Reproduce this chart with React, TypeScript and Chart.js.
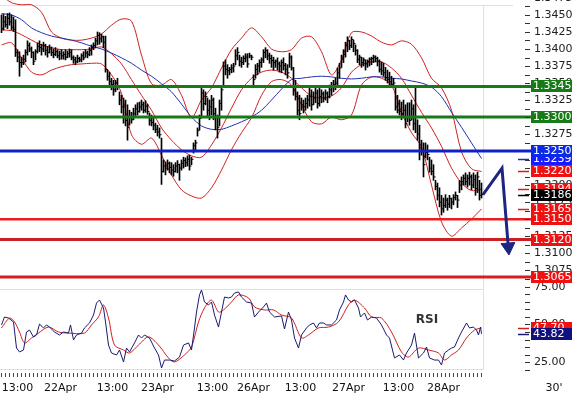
import React, { useEffect, useRef } from "react";
import { Chart, registerables } from "chart.js";

Chart.register(...registerables);

// ---------- price bars (30' bars), values in pips above 1.3000 ----------
const PIP_BASE = 1.3;
const highPips = [
  450, 451, 448, 452, 453, 450, 447, 443, 399, 396,
  388, 391, 399, 412, 409, 403, 396, 399, 409, 412,
  407, 410, 407, 404, 406, 403, 400, 402, 399, 397,
  399, 396, 399, 397, 400, 399, 390, 388, 391, 388,
  393, 396, 399, 397, 402, 406, 409, 416, 425, 424,
  422, 419, 419, 369, 366, 357, 354, 354, 357, 337,
  332, 328, 325, 318, 310, 307, 313, 318, 321, 322,
  325, 322, 324, 319, 306, 303, 299, 291, 288, 284,
  269, 237, 234, 237, 234, 233, 230, 233, 236, 231,
  237, 241, 240, 243, 244, 241, 262, 266, 284, 303,
  343, 340, 337, 328, 325, 332, 328, 313, 303, 325,
  343, 381, 384, 377, 373, 377, 379, 399, 402, 391,
  388, 390, 393, 393, 394, 391, 362, 377, 379, 384,
  387, 399, 402, 399, 394, 391, 388, 384, 387, 381,
  384, 387, 379, 377, 394, 390, 373, 354, 337, 332,
  328, 325, 328, 332, 343, 340, 337, 343, 340, 343,
  340, 337, 340, 337, 347, 351, 354, 357, 372, 379,
  391, 399, 410, 418, 413, 418, 413, 406, 399, 391,
  388, 387, 384, 384, 387, 388, 391, 390, 388, 384,
  381, 379, 373, 369, 366, 360, 357, 344, 332, 325,
  322, 325, 318, 321, 321, 325, 318, 344, 296, 288,
  266, 262, 262, 259, 241, 237, 230, 207, 203, 196,
  185, 181, 186, 181, 185, 181, 186, 190, 185, 207,
  212, 215, 218, 215, 219, 215, 218, 215, 219, 207,
  203,
];
const lowPips = [
  424, 428, 432, 430, 435, 428, 426, 389, 381, 360,
  373, 377, 381, 391, 396, 387, 377, 384, 394, 396,
  391, 396, 391, 388, 394, 390, 387, 390, 387, 384,
  385, 385, 384, 387, 388, 384, 379, 377, 380, 381,
  381, 384, 388, 387, 390, 391, 399, 402, 406, 407,
  410, 402, 366, 354, 347, 340, 332, 337, 340, 318,
  306, 291, 287, 266, 288, 291, 296, 300, 303, 307,
  310, 306, 307, 304, 288, 287, 281, 277, 272, 269,
  201, 219, 215, 222, 218, 215, 213, 219, 218, 207,
  222, 225, 227, 228, 222, 230, 247, 252, 272, 281,
  299, 310, 318, 299, 296, 303, 296, 281, 269, 287,
  310, 347, 362, 357, 362, 365, 366, 377, 384, 375,
  373, 377, 381, 373, 387, 384, 347, 357, 362, 366,
  373, 380, 387, 384, 379, 373, 369, 373, 369, 366,
  365, 369, 362, 357, 373, 369, 332, 325, 303, 296,
  310, 306, 310, 313, 316, 310, 318, 321, 313, 316,
  321, 322, 325, 321, 328, 332, 337, 340, 344, 357,
  373, 380, 388, 396, 399, 402, 396, 391, 380, 377,
  373, 375, 369, 373, 375, 377, 380, 381, 375, 366,
  362, 360, 354, 350, 347, 344, 347, 310, 306, 303,
  296, 299, 284, 293, 288, 296, 281, 277, 266, 237,
  244, 212, 240, 237, 219, 215, 207, 193, 178, 168,
  156, 160, 167, 163, 167, 165, 171, 178, 167, 189,
  193, 200, 200, 197, 200, 193, 196, 185, 189, 178,
  181,
];
const closePips = [
  430, 440, 436, 445, 440, 432, 429, 395, 388, 380,
  380, 385, 395, 405, 400, 395, 382, 396, 404, 402,
  400, 405, 398, 395, 400, 395, 392, 396, 390, 393,
  390, 392, 388, 393, 395, 387, 384, 381, 386, 384,
  390, 387, 394, 392, 398, 402, 405, 412, 420, 415,
  418, 410, 370, 360, 352, 348, 340, 350, 345, 325,
  315, 300, 295, 285, 300, 296, 305, 312, 308, 315,
  318, 310, 316, 308, 295, 292, 288, 282, 278, 274,
  220, 228, 225, 232, 226, 222, 220, 228, 230, 225,
  232, 236, 233, 238, 228, 238, 258, 262, 280, 298,
  335, 320, 330, 310, 315, 325, 305, 300, 285, 320,
  340, 375, 370, 368, 370, 372, 375, 390, 395, 382,
  380, 386, 388, 378, 390, 388, 355, 370, 375, 380,
  384, 395, 398, 390, 386, 383, 380, 382, 378, 375,
  380, 376, 370, 365, 388, 372, 340, 330, 310, 305,
  318, 315, 320, 325, 330, 318, 328, 335, 320, 330,
  334, 328, 335, 330, 340, 344, 348, 350, 365, 372,
  385, 392, 405, 412, 405, 414, 408, 398, 385, 388,
  380, 384, 378, 382, 385, 386, 388, 386, 382, 370,
  368, 365, 358, 355, 352, 348, 350, 315, 310, 308,
  305, 310, 290, 300, 295, 312, 290, 300, 275, 255,
  250, 230, 248, 245, 225, 220, 212, 198, 185, 175,
  165, 170, 178, 172, 180, 175, 182, 185, 178, 200,
  205, 210, 205, 210, 212, 200, 208, 195, 212, 185,
  186,
];

// ---------- indicator lines (sampled every 5 bars) ----------
const lineIdx = [
  0, 5, 10, 15, 20, 25, 30, 35, 40, 45,
  50, 55, 60, 65, 70, 75, 80, 85, 90, 95,
  100, 105, 110, 115, 120, 125, 130, 135, 140, 145,
  150, 155, 160, 165, 170, 175, 180, 185, 190, 195,
  200, 205, 210, 215, 220, 225, 230, 235, 240,
];
const upperBand = [
  1.3479, 1.3468, 1.3465, 1.3465, 1.3454, 1.3425, 1.3416, 1.3413, 1.3413, 1.3416,
  1.3422, 1.3435, 1.3444, 1.3441, 1.3391, 1.3349, 1.3347, 1.3355, 1.3332, 1.3299,
  1.3325, 1.3343, 1.3372, 1.3399, 1.3416, 1.3431, 1.3418, 1.34, 1.3396, 1.3399,
  1.3416, 1.3418, 1.3396, 1.3362, 1.3384, 1.3424, 1.3425, 1.3419, 1.341, 1.3406,
  1.3412, 1.3407, 1.3387, 1.3357, 1.3343, 1.331, 1.3249, 1.3224, 1.322,
];
const middleBand = [
  1.3428, 1.3427, 1.3421, 1.3413, 1.3406, 1.3402, 1.3399, 1.3399, 1.3399, 1.34,
  1.3403, 1.3393, 1.3378, 1.3355, 1.3332, 1.331, 1.3284, 1.3266, 1.3252, 1.3243,
  1.3241, 1.3259, 1.3284, 1.3313, 1.334, 1.3357, 1.3366, 1.3369, 1.3366, 1.3357,
  1.3343, 1.3331, 1.3328, 1.3331, 1.3343, 1.3366, 1.3377, 1.3381, 1.3381, 1.3372,
  1.3357, 1.3332, 1.3307, 1.3284, 1.3257, 1.3225, 1.3203, 1.3192, 1.3194,
];
const lowerBand = [
  1.3406, 1.3409, 1.3387, 1.3366, 1.3362, 1.3369, 1.3374, 1.3377, 1.3378, 1.3379,
  1.3378, 1.3362, 1.3335, 1.3274, 1.326, 1.3269, 1.3244, 1.3215, 1.3193, 1.3184,
  1.3181, 1.3196, 1.3222, 1.3252, 1.3277, 1.3299, 1.3332, 1.3352, 1.3355, 1.3347,
  1.3318, 1.3293, 1.329, 1.33, 1.3296, 1.3303, 1.3347, 1.3359, 1.3357, 1.3347,
  1.3307, 1.3277, 1.3256, 1.32, 1.3146, 1.3125, 1.3137, 1.315, 1.3165,
];
const maLine = [
  1.3452, 1.345, 1.3443, 1.3431, 1.3424, 1.3419, 1.3416, 1.3413, 1.3409, 1.3404,
  1.34, 1.3394, 1.3387, 1.3379, 1.3369, 1.336, 1.3349, 1.3337, 1.3319, 1.33,
  1.3287, 1.3282, 1.3282, 1.3287, 1.3293, 1.33, 1.331, 1.3325, 1.3341, 1.3355,
  1.3357, 1.3359, 1.336, 1.3359, 1.3357, 1.3356, 1.3357, 1.3359, 1.3359, 1.3357,
  1.3356, 1.3353, 1.335, 1.3344, 1.333, 1.3307, 1.3285, 1.3262, 1.3239,
];

// ---------- support / resistance levels ----------
const levelValues = [1.3345, 1.33, 1.325, 1.315, 1.312, 1.3065];
const levelColors = ["#167a16", "#167a16", "#1020c8", "#ee1c1c", "#cc2020", "#d02020"];
const levelBoxColors = ["#167a16", "#167a16", "#0a2ae6", "#ee1111", "#ee1111", "#ee1111"];
const levelWidths = [3, 3, 3, 2.5, 3, 3];

// ---------- projection arrow ----------
const projectionIdx = [240.75, 250.25, 253.4];
const projectionPrices = [1.3186, 1.3225, 1.3109];

// ---------- RSI ----------
const rsiIdx = [
  0, 1.5, 3.5, 6, 7.5, 9, 11, 12.5, 14, 16,
  17.5, 19, 21, 22.5, 24, 26.5, 29, 31, 33.5, 34.5,
  36, 37.5, 40, 41.5, 44, 46, 47.5, 49, 51, 52,
  53.5, 55, 57.5, 59, 61, 62.5, 64, 66.5, 68.5, 70,
  71.5, 74, 76.5, 78.5, 80, 81.5, 84, 86.5, 89, 91,
  93.5, 95, 96.5, 97.5, 99, 100, 101.5, 103.5, 105, 106.5,
  108.5, 110, 111.5, 113.5, 115, 116.5, 118.5, 120, 122.5, 125,
  126.5, 128.5, 131, 132.5, 134, 136.5, 140, 141.5, 143.5, 145,
  146.5, 148.5, 150, 152.5, 154, 156, 157.5, 159, 161, 162.5,
  165, 167.5, 169, 171, 172, 173.5, 175, 176.5, 178.5, 179.5,
  181.5, 183, 185, 187.5, 190, 192.5, 194, 196.5, 199, 201,
  202.5, 205, 206.5, 208.5, 211, 212.5, 214, 216.5, 218.5, 220,
  221.5, 223.5, 225, 226.5, 228.5, 230, 232.5, 234, 236, 237.5,
  238.5, 239.5, 240,
];
const rsiValues = [
  49.7, 55, 54.3, 51.7, 34.3, 31.7, 33, 45, 46.3, 41.7,
  43, 50.3, 47.7, 49.7, 48.3, 45, 43, 45, 44.3, 49.7,
  39.7, 43, 44.3, 47.7, 51, 56.3, 64.3, 66.3, 61, 51.7,
  36.3, 31, 29.7, 33, 25, 34.3, 31.7, 37.7, 43, 41,
  43, 41, 34.3, 29.7, 21, 26.3, 26.3, 25.7, 28.3, 36.3,
  37.7, 33, 47.7, 58.3, 69.7, 73, 65, 63, 65, 56.3,
  48.3, 58.3, 68.3, 67.7, 68.3, 71, 71.7, 68.3, 65, 64.3,
  55, 58.3, 61.7, 64.3, 58.3, 55, 55.7, 47, 58.3, 53,
  41, 34.3, 43, 47.7, 49.7, 51, 47.7, 51, 51, 49.7,
  49.7, 53, 59.7, 65, 69.7, 66.3, 65, 66.3, 61, 55,
  57.7, 53, 55, 54.3, 49.7, 43, 41, 27.7, 29.7, 26.3,
  31, 36.3, 44.3, 27.7, 31, 35, 27.7, 26.3, 26.3, 23,
  31, 33, 34.3, 35, 41, 45, 51, 47.7, 48.3, 46.3,
  43, 48.3, 43.82,
];
const signalIdx = [
  0, 4, 6.5, 9, 11.5, 15, 18.5, 23.5, 28.5, 33.5,
  41.5, 45, 48.5, 51, 53.5, 56.5, 61, 64, 68.5, 73.5,
  78.5, 83.5, 86.5, 91.5, 95, 98.5, 101.5, 105, 108.5, 111,
  115, 118.5, 123.5, 126.5, 131.5, 136, 140, 145, 150, 153.5,
  158.5, 163.5, 168.5, 173.5, 176.5, 181.5, 185, 190, 195, 200,
  203.5, 208.5, 213.5, 218.5, 221.5, 225, 228.5, 232.5, 236.5, 240,
];
const signalValues = [
  47.7, 54.3, 51.7, 45, 37.7, 41, 44.3, 48.3, 45, 44.3,
  44.3, 49.7, 55, 63, 54.3, 36.3, 33, 31, 36.3, 41.7,
  36.3, 27.7, 25, 29.7, 35, 51.7, 61, 66.3, 58.3, 59.7,
  65, 69.7, 67.7, 61.7, 59.7, 59.7, 56.3, 54.3, 41, 43,
  47.7, 48.3, 51.7, 63, 66.3, 61, 55, 54.3, 45, 31.7,
  28.3, 34.3, 33, 31, 26.3, 29.7, 33, 41, 46.3, 47.7,
];

// ---------- axis labels ----------
const priceTickLabels = [
  1.3475, 1.345, 1.3425, 1.34, 1.3375, 1.335, 1.3325, 1.33, 1.3275, 1.325, 1.3225,
  1.32, 1.3175, 1.315, 1.3125, 1.31, 1.3075,
];
const rsiTickLabels = [75, 50, 25];
const timeLabels = ["13:00", "22Apr", "13:00", "23Apr", "13:00", "26Apr", "13:00", "27Apr", "13:00", "28Apr"];
const timeLabelIdx = [8, 29.5, 55.5, 78, 105.5, 126, 149.5, 173.5, 198.5, 221];
const periodLabel = "30'";

// ---------- layout constants ----------
const X_MIN = -0.75;
const X_MAX = 262.25;
const PRICE_MIN = 1.30532;
const PRICE_MAX = 1.3472;
const RSI_MIN = 19.67;
const RSI_MAX = 76.33;
const FONT = "11px 'DejaVu Sans', Verdana, sans-serif";
const GRID = "#d9e2ec";

const toPrice = (p: number) => PIP_BASE + p / 10000;
const pairs = (xs: number[], ys: number[]) => xs.map((x, i) => ({ x, y: ys[i] }));

function drawBox(ctx: CanvasRenderingContext2D, py: number, color: string, text: string) {
  const yy = Math.round(py);
  ctx.fillStyle = color;
  ctx.fillRect(531, yy - 6, 41, 12);
  ctx.fillStyle = "#ffffff";
  ctx.fillText(text, 533, yy + 0.5);
}
function drawDash(ctx: CanvasRenderingContext2D, py: number, color: string) {
  ctx.strokeStyle = color;
  ctx.lineWidth = 1.5;
  ctx.beginPath();
  ctx.moveTo(518, py);
  ctx.lineTo(529, py);
  ctx.stroke();
}

const mainDecor = {
  id: "mainDecor",
  beforeDatasetsDraw(chart: any) {
    const { ctx, scales } = chart;
    const xe = Math.round(scales.x.getPixelForValue(closePips.length - 0.5)) + 0.5;
    ctx.save();
    ctx.strokeStyle = GRID;
    ctx.lineWidth = 1;
    ctx.beginPath();
    ctx.moveTo(0, 5.5);
    ctx.lineTo(513, 5.5);
    ctx.moveTo(xe, 5);
    ctx.lineTo(xe, 285);
    ctx.stroke();
    ctx.restore();
  },
  afterDraw(chart: any) {
    const { ctx, scales } = chart;
    const y = scales.y;
    ctx.save();
    ctx.font = FONT;
    ctx.textBaseline = "middle";
    ctx.textAlign = "left";
    // minor ticks
    ctx.fillStyle = "#333";
    const k0 = Math.ceil(PRICE_MIN / 0.00125 - 1e-6);
    const k1 = Math.floor(PRICE_MAX / 0.00125 + 1e-6);
    for (let k = k0; k <= k1; k++) {
      const py = Math.round(y.getPixelForValue(k * 0.00125));
      ctx.fillRect(525, py, 5, 1);
    }
    ctx.fillStyle = "#222";
    priceTickLabels.forEach((v) => {
      const py = Math.round(y.getPixelForValue(v));
      ctx.fillText(v.toFixed(4), 534, py + 0.5);
    });
    // last-value markers of series
    const last = (a: number[]) => a[a.length - 1];
    const series: [number, string, string][] = [
      [last(maLine), "#2030b0", "#1a1aff"],
      [last(upperBand), "#d02020", "#ee1111"],
      [last(middleBand), "#d02020", "#ee1111"],
      [last(lowerBand), "#d02020", "#ee1111"],
      [toPrice(last(closePips)), "#000000", "#000000"],
    ];
    series.forEach(([v, dash]) => drawDash(ctx, Math.round(y.getPixelForValue(v)) + 0.5, dash));
    series.forEach(([v, , box]) => drawBox(ctx, y.getPixelForValue(v), box, v.toFixed(4)));
    levelValues.forEach((v, i) => drawBox(ctx, y.getPixelForValue(v), levelBoxColors[i], v.toFixed(4)));
    ctx.restore();
  },
};

const rsiDecor = {
  id: "rsiDecor",
  beforeDatasetsDraw(chart: any) {
    const { ctx, scales } = chart;
    const xe = Math.round(scales.x.getPixelForValue(closePips.length - 0.5)) + 0.5;
    ctx.save();
    ctx.strokeStyle = GRID;
    ctx.lineWidth = 1;
    ctx.beginPath();
    ctx.moveTo(0, 289.5);
    ctx.lineTo(xe, 289.5);
    ctx.moveTo(0, 369.5);
    ctx.lineTo(xe, 369.5);
    ctx.moveTo(xe, 285);
    ctx.lineTo(xe, 370);
    ctx.stroke();
    ctx.restore();
  },
  afterDraw(chart: any) {
    const { ctx, scales } = chart;
    const x = scales.x;
    const y = scales.y;
    ctx.save();
    ctx.font = FONT;
    ctx.textBaseline = "middle";
    ctx.textAlign = "left";
    ctx.fillStyle = "#333";
    for (let v = 20; v <= 75; v += 5) {
      const py = Math.round(y.getPixelForValue(v));
      ctx.fillRect(525, py, 5, 1);
    }
    ctx.fillStyle = "#222";
    rsiTickLabels.forEach((v) => {
      ctx.fillText(v.toFixed(2), 534, Math.round(y.getPixelForValue(v)) + 0.5);
    });
    const sLast = signalValues[signalValues.length - 1];
    const rLast = rsiValues[rsiValues.length - 1];
    drawDash(ctx, Math.round(y.getPixelForValue(sLast)) + 0.5, "#cc2020");
    drawDash(ctx, Math.round(y.getPixelForValue(rLast)) + 0.5, "#1a1a70");
    drawBox(ctx, y.getPixelForValue(sLast), "#ee1111", sLast.toFixed(2));
    drawBox(ctx, y.getPixelForValue(rLast), "#101080", rLast.toFixed(2));

    // RSI caption
    ctx.fillStyle = "#333";
    ctx.font = "bold 12px 'DejaVu Sans', Verdana, sans-serif";
    ctx.textAlign = "center";
    ctx.fillText("RSI", 427, 320);

    // time axis
    ctx.fillStyle = "#444";
    for (let i = 0; i < closePips.length; i += 2) {
      const px = Math.round(x.getPixelForValue(i) - 0.5);
      ctx.fillRect(px, 373, 1, 4);
    }
    ctx.font = FONT;
    ctx.fillStyle = "#111";
    timeLabels.forEach((t, i) => {
      ctx.fillText(t, x.getPixelForValue(timeLabelIdx[i]), 388);
    });
    ctx.fillText(periodLabel, 554, 388);
    ctx.restore();
  },
};

export default function App() {
  const mainRef = useRef<HTMLCanvasElement>(null);
  const rsiRef = useRef<HTMLCanvasElement>(null);

  useEffect(() => {
    document.body.style.margin = "0";
    const bars = highPips.map((h, i) => ({ x: i, y: [toPrice(lowPips[i]), toPrice(h)] }));
    const closes = closePips.map((c, i) => ({ x: i, y: toPrice(c) }));
    const lineSet = (ys: number[], color: string) => ({
      type: "line",
      data: pairs(lineIdx, ys),
      borderColor: color,
      borderWidth: 1,
      pointRadius: 0,
      tension: 0.3,
      fill: false,
    });
    const levelSets = levelValues.map((v, i) => ({
      type: "line",
      data: [
        { x: X_MIN, y: v },
        { x: X_MAX + 3, y: v },
      ],
      borderColor: levelColors[i],
      borderWidth: levelWidths[i],
      pointRadius: 0,
      clip: false,
    }));

    const main = new Chart(mainRef.current as HTMLCanvasElement, {
      type: "line",
      data: {
        datasets: [
          {
            type: "line",
            data: pairs(projectionIdx, projectionPrices),
            borderColor: "#1c2580",
            borderWidth: 3,
            tension: 0,
            pointRadius: [0, 0, 8],
            pointStyle: "triangle",
            rotation: 175,
            pointBackgroundColor: "#1c2580",
            pointBorderColor: "#1c2580",
            pointBorderWidth: 1,
          },
          ...levelSets,
          {
            type: "line",
            data: closes,
            showLine: false,
            pointStyle: "dash",
            pointRadius: 2,
            pointBorderColor: "#000",
            pointBorderWidth: 1,
          },
          {
            type: "bar",
            data: bars,
            backgroundColor: "#000",
            borderWidth: 0,
            barThickness: 1,
            grouped: false,
          },
          lineSet(maLine, "#2030b0"),
          lineSet(upperBand, "#d02020"),
          lineSet(middleBand, "#d02020"),
          lineSet(lowerBand, "#d02020"),
        ] as any,
      },
      options: {
        responsive: false,
        animation: false,
        devicePixelRatio: 1,
        events: [],
        layout: { autoPadding: false, padding: { left: 0, right: 46, top: 0, bottom: 112 } },
        plugins: { legend: { display: false }, tooltip: { enabled: false } },
        scales: {
          x: { type: "linear", display: false, min: X_MIN, max: X_MAX, offset: false },
          y: { type: "linear", display: false, min: PRICE_MIN, max: PRICE_MAX },
        },
      } as any,
      plugins: [mainDecor],
    });

    const rsi = new Chart(rsiRef.current as HTMLCanvasElement, {
      type: "line",
      data: {
        datasets: [
          {
            data: pairs(rsiIdx, rsiValues),
            borderColor: "#1a1a70",
            borderWidth: 1,
            pointRadius: 0,
            tension: 0,
          },
          {
            data: pairs(signalIdx, signalValues),
            borderColor: "#cc2020",
            borderWidth: 1,
            pointRadius: 0,
            tension: 0.3,
          },
        ],
      },
      options: {
        responsive: false,
        animation: false,
        devicePixelRatio: 1,
        events: [],
        layout: { autoPadding: false, padding: { left: 0, right: 46, top: 285, bottom: 27 } },
        plugins: { legend: { display: false }, tooltip: { enabled: false } },
        scales: {
          x: { type: "linear", display: false, min: X_MIN, max: X_MAX, offset: false },
          y: { type: "linear", display: false, min: RSI_MIN, max: RSI_MAX },
        },
      } as any,
      plugins: [rsiDecor],
    });

    return () => {
      main.destroy();
      rsi.destroy();
    };
  }, []);

  const cs: React.CSSProperties = { position: "absolute", left: 0, top: 0, width: 572, height: 397 };
  return (
    <div style={{ position: "fixed", left: 0, top: 0, width: 572, height: 397, background: "#fff" }}>
      <canvas ref={rsiRef} width={572} height={397} style={cs} />
      <canvas ref={mainRef} width={572} height={397} style={cs} />
    </div>
  );
}
